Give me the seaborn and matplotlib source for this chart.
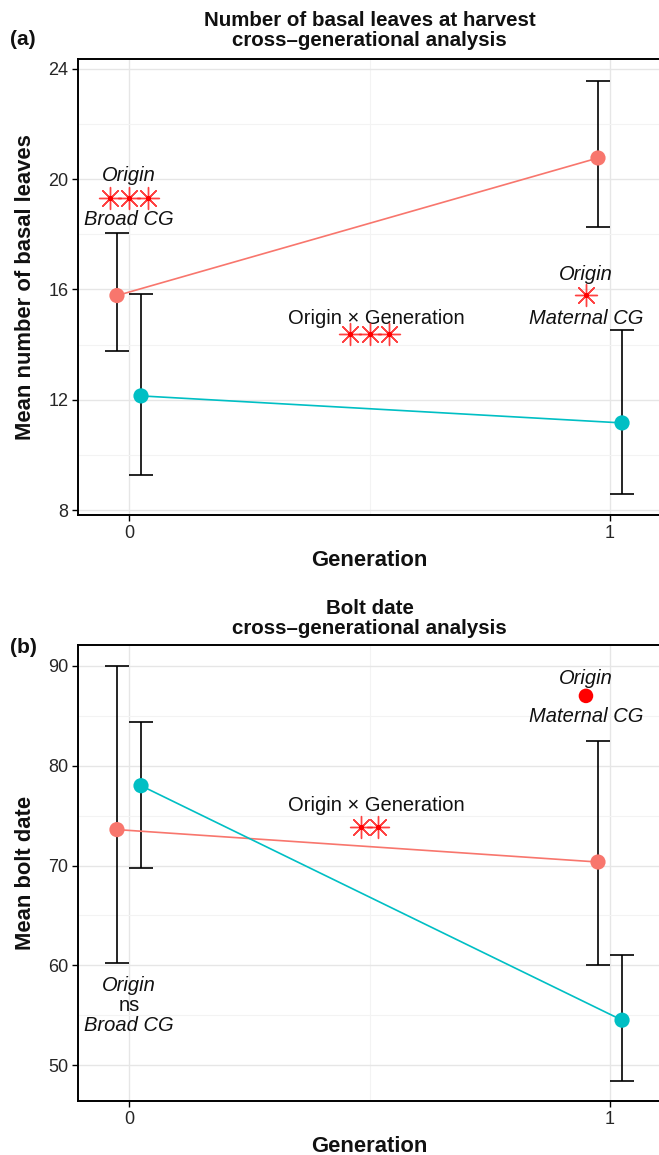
import matplotlib
matplotlib.use("Agg")
import matplotlib.pyplot as plt
import seaborn as sns
import pandas as pd
import numpy as np
from matplotlib.ticker import MultipleLocator

sns.set_theme(style="white")
plt.rcParams['font.family'] = ['Liberation Sans', 'DejaVu Sans']

# ---- data ----
origins = ["A", "B"]
generations = [0, 1]
leaves_mean = {"A": [15.78, 20.77], "B": [12.14, 11.16]}
leaves_lo = {"A": [13.77, 18.27], "B": [9.27, 8.58]}
leaves_hi = {"A": [18.05, 23.57], "B": [15.84, 14.53]}
bolt_mean = {"A": [73.6, 70.35], "B": [78.0, 54.5]}
bolt_lo = {"A": [60.2, 60.0], "B": [69.8, 48.4]}
bolt_hi = {"A": [90.0, 82.5], "B": [84.4, 61.0]}
xticks = [0, 1]
leaves_yticks = [8, 12, 16, 20, 24]
bolt_yticks = [50, 60, 70, 80, 90]

palette = {"A": "#F8766D", "B": "#00BFC4"}
dodge = {"A": -0.025, "B": 0.025}

W, H = 659, 1155
fig = plt.figure(figsize=(W / 100, H / 100), dpi=100)

def frame(mean, lo, hi):
    rows = []
    for o in origins:
        for i, g in enumerate(generations):
            rows.append(dict(origin=o, gen=g, x=g + dodge[o], mean=mean[o][i], lo=lo[o][i], hi=hi[o][i]))
    return pd.DataFrame(rows)

def fy(px):
    return 1 - px / H

def panel(top_px, bot_px, df, ylim, yticks, minor, ylabel, titles, tag, title_base, tag_base):
    rect = [78 / W, fy(bot_px), (661 - 78) / W, (bot_px - top_px) / H]
    ax = fig.add_axes(rect)
    ax.set_facecolor("white")
    for o in origins:
        d = df[df.origin == o]
        ax.errorbar(d.x, d["mean"], yerr=[d["mean"] - d.lo, d.hi - d["mean"]], fmt="none",
                    ecolor="black", elinewidth=1.2, capsize=8.5, capthick=1.2, zorder=2)
    sns.lineplot(data=df, x="x", y="mean", hue="origin", palette=palette, ax=ax,
                 linewidth=1.2, legend=False, zorder=3, estimator=None, sort=True)
    sns.scatterplot(data=df, x="x", y="mean", hue="origin", palette=palette, ax=ax,
                    s=120, edgecolor="none", legend=False, zorder=4)
    ax.set_xlim(-0.106, 1.106)
    ax.set_ylim(*ylim)
    ax.set_xticks(xticks)
    ax.set_yticks(yticks)
    ax.xaxis.set_minor_locator(MultipleLocator(0.5))
    ax.yaxis.set_minor_locator(MultipleLocator(minor))
    ax.grid(which="major", color="#E6E6E6", linewidth=1.0, zorder=0)
    ax.grid(which="minor", color="#F3F3F3", linewidth=0.8, zorder=0)
    ax.set_axisbelow(True)
    for s in ax.spines.values():
        s.set_color("black")
        s.set_linewidth(1.4)
        s.set_visible(True)
    ax.tick_params(axis="both", which="major", direction="out", length=4, width=1.0,
                   color="black", labelsize=13, labelcolor="#262626", left=True, bottom=True,
                   pad=3)
    ax.tick_params(which="minor", length=0)
    ax.set_xlabel("Generation", fontsize=15.8, fontweight="bold", labelpad=6, color="#111111")
    ax.set_ylabel(ylabel, fontsize=15.8, fontweight="bold", labelpad=9, color="#111111")
    cx = (78 + 661) / 2 / W
    fig.text(cx, fy(title_base - 19.5), titles[0], ha="center", va="baseline", fontsize=14.8,
             fontweight="bold", color="#111111")
    fig.text(cx, fy(title_base), titles[1], ha="center", va="baseline", fontsize=14.8,
             fontweight="bold", color="#111111")
    fig.text(10 / W, fy(tag_base), tag, ha="left", va="baseline", fontsize=15, fontweight="bold",
             color="#111111")
    return ax

def stars(ax, xc, y, n, spacing=0.0395):
    xs = xc + (np.arange(n) - (n - 1) / 2) * spacing
    ax.scatter(xs, [y] * n, marker=(8, 2, 0), s=250, color="#FF2020", linewidths=1.0, zorder=5, alpha=0.85)
    ax.scatter(xs, [y] * n, marker="o", s=8, color="#FF0000", zorder=6)

txt = dict(ha="center", va="center", fontsize=14.5, color="#111111")
txti = dict(txt, style="italic")

# panel (a)
dfa = frame(leaves_mean, leaves_lo, leaves_hi)
axa = panel(59, 515, dfa, (7.82, 24.36), leaves_yticks, 2, "Mean number of basal leaves",
            ["Number of basal leaves at harvest", "cross\u2013generational analysis"], "(a)",
            46, 45)
axa.text(0.0, 20.12, "Origin", **txti)
stars(axa, 0.0, 19.32, 3)
axa.text(0.0, 18.55, "Broad CG", **txti)
axa.text(0.515, 14.95, "Origin \u00d7 Generation", **txt)
stars(axa, 0.5, 14.4, 3)
axa.text(0.95, 16.55, "Origin", **txti)
stars(axa, 0.95, 15.8, 1)
axa.text(0.95, 14.95, "Maternal CG", **txti)

# panel (b)
dfb = frame(bolt_mean, bolt_lo, bolt_hi)
axb = panel(645, 1101, dfb, (46.4, 92.1), bolt_yticks, 5, "Mean bolt date",
            ["Bolt date", "cross\u2013generational analysis"], "(b)", 634, 653)
axb.text(0.0, 58.0, "Origin", **txti)
axb.text(0.0, 56.0, "ns", **txt)
axb.text(0.0, 54.0, "Broad CG", **txti)
axb.text(0.515, 76.0, "Origin \u00d7 Generation", **txt)
stars(axb, 0.5, 73.9, 2, spacing=0.035)
axb.text(0.95, 88.75, "Origin", **txti)
axb.scatter([0.95], [87.0], s=110, color="#FF0000", edgecolor="none", zorder=6)
axb.text(0.95, 84.9, "Maternal CG", **txti)

fig.savefig("out.png", dpi=100)
